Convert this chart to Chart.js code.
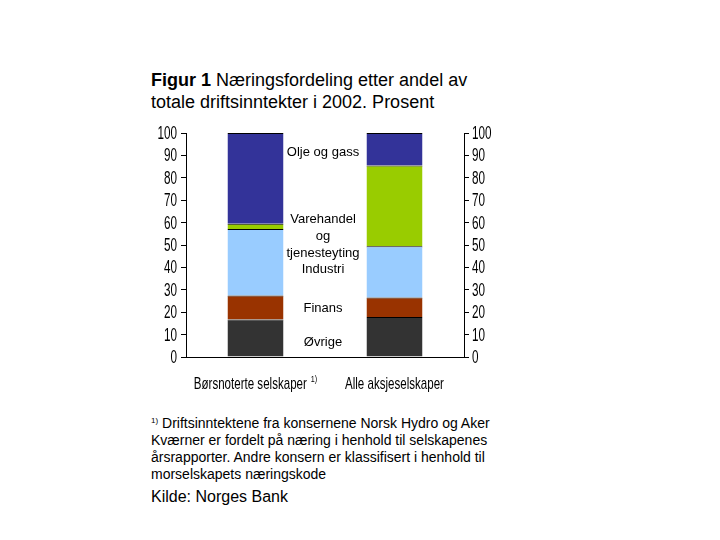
<!DOCTYPE html>
<html>
<head>
<meta charset="utf-8">
<script src="https://cdn.jsdelivr.net/npm/chart.js@4"></script>
<style>
  body { margin: 0; background: #fff; width: 720px; height: 540px; position: relative; font-family: "Liberation Sans", Arial, sans-serif; color: #000; }
  #title { position: absolute; left: 151px; top: 69px; font-size: 18px; line-height: 22px; }
  #wrap { position: absolute; left: 140px; top: 120px; width: 370px; height: 280px; }
  #note { position: absolute; left: 151px; top: 415px; width: 380px; font-size: 14px; line-height: 17px; }
  #note sup { font-size: 8px; vertical-align: 5px; line-height: 0; }
  #source { position: absolute; left: 151px; top: 488px; font-size: 16px; }
</style>
</head>
<body>
<div id="title"><b>Figur 1</b> Næringsfordeling etter andel av<br>totale driftsinntekter i 2002. Prosent</div>
<div id="wrap"><canvas id="chart" width="370" height="280"></canvas></div>
<div id="note"><sup>1)</sup> Driftsinntektene fra konsernene Norsk Hydro og Aker<br>Kværner er fordelt på næring i henhold til selskapenes<br>årsrapporter. Andre konsern er klassifisert i henhold til<br>morselskapets næringskode</div>
<div id="source">Kilde: Norges Bank</div>
<script>
// data (percent of total operating income)
var categories = ['Børsnoterte selskaper', 'Alle aksjeselskaper'];
var categoryNotes = ['1)', ''];
var ovrige     = [16.7, 17.9];
var finans     = [10.7, 8.7];
var industri   = [29.7, 22.8];
var varehandel = [2.4, 36.1];
var oljeGass   = [40.5, 14.5];

// labels written between the bars, at a value on the y scale
var inlineLabels = [
  { lines: ['Olje og gass'], y: 91.5 },
  { lines: ['Varehandel', 'og', 'tjenesteyting'], y: 54 },
  { lines: ['Industri'], y: 39 },
  { lines: ['Finans'], y: 21.5 },
  { lines: ['Øvrige'], y: 6.5 }
];

var FONT = '"Liberation Sans", Arial, sans-serif';

// the original axis labels use a squeezed font; no narrow font is installed,
// so draw the tick text horizontally scaled
function squeezed(ctx, text, x, y, align, sx) {
  ctx.save();
  ctx.translate(x, y);
  ctx.scale(sx, 1);
  ctx.textAlign = align;
  ctx.fillText(text, 0, 0);
  ctx.restore();
}

var textPlugin = {
  id: 'textPlugin',
  afterDraw: function (chart) {
    var ctx = chart.ctx;
    var ys = chart.scales.y, ys2 = chart.scales.y2, xs = chart.scales.x;
    var area = chart.chartArea;
    ctx.save();
    ctx.fillStyle = '#000';
    ctx.textBaseline = 'middle';

    // y tick labels, both sides
    ctx.font = '18px ' + FONT;
    ys.ticks.forEach(function (t) {
      squeezed(ctx, String(t.value), ys.right - 9, ys.getPixelForValue(t.value) + 1, 'right', 0.65);
    });
    ys2.ticks.forEach(function (t) {
      squeezed(ctx, String(t.value), ys2.left + 8, ys2.getPixelForValue(t.value) + 1, 'left', 0.65);
    });

    // category labels
    categories.forEach(function (c, i) {
      var cx = xs.getPixelForValue(i);
      var y = area.bottom + 27;
      ctx.font = '17px ' + FONT;
      var w = ctx.measureText(c).width * 0.68;
      var nw = 0;
      if (categoryNotes[i]) {
        ctx.font = '9px ' + FONT;
        nw = ctx.measureText(categoryNotes[i]).width * 0.8 + 4;
      }
      var left = cx - (w + nw) / 2;
      ctx.font = '17px ' + FONT;
      squeezed(ctx, c, left, y, 'left', 0.68);
      if (categoryNotes[i]) {
        ctx.font = '9px ' + FONT;
        squeezed(ctx, categoryNotes[i], left + w + 4, y - 4, 'left', 0.8);
      }
    });

    // names of the segments, between the two bars
    var mx = (area.left + area.right) / 2 - 2;
    ctx.font = '13px ' + FONT;
    ctx.textAlign = 'center';
    inlineLabels.forEach(function (l) {
      var yc = ys.getPixelForValue(l.y);
      var start = yc - (l.lines.length - 1) * 17 / 2;
      l.lines.forEach(function (t, i) { ctx.fillText(t, mx, start + i * 17); });
    });
    ctx.restore();
  }
};

function ds(label, data, color) {
  return {
    label: label, data: data, backgroundColor: color,
    borderColor: '#000', borderWidth: { top: 1, bottom: 0, left: 0, right: 0 }, borderSkipped: false
  };
}

var yAxis = function (pos) {
  return {
    position: pos,
    stacked: true,
    min: 0, max: 100,
    ticks: { stepSize: 10, autoSkip: false, color: 'rgba(0,0,0,0)', font: { size: 16 } },
    grid: { drawOnChartArea: false, drawTicks: true, tickLength: 5, tickColor: '#000' },
    border: { display: true, color: '#000' },
    afterFit: function (s) { s.width = 46; }
  };
};

new Chart(document.getElementById('chart'), {
  type: 'bar',
  data: {
    labels: categories,
    datasets: [
      ds('Øvrige', ovrige, '#333333'),
      ds('Finans', finans, '#993300'),
      ds('Industri', industri, '#99ccff'),
      ds('Varehandel og tjenesteyting', varehandel, '#99cc00'),
      ds('Olje og gass', oljeGass, '#333399')
    ]
  },
  options: {
    responsive: false,
    animation: false,
    devicePixelRatio: 1,
    barPercentage: 0.403,
    categoryPercentage: 1,
    layout: { autoPadding: false, padding: { top: 13 } },
    plugins: { legend: { display: false }, tooltip: { enabled: false } },
    scales: {
      x: {
        stacked: true,
        ticks: { color: 'rgba(0,0,0,0)', autoSkip: false, maxRotation: 0 },
        grid: { display: false },
        border: { display: true, color: '#000' },
        afterFit: function (s) { s.height = 43; }
      },
      y: yAxis('left'),
      y2: yAxis('right')
    }
  },
  plugins: [textPlugin]
});
</script>
</body>
</html>
